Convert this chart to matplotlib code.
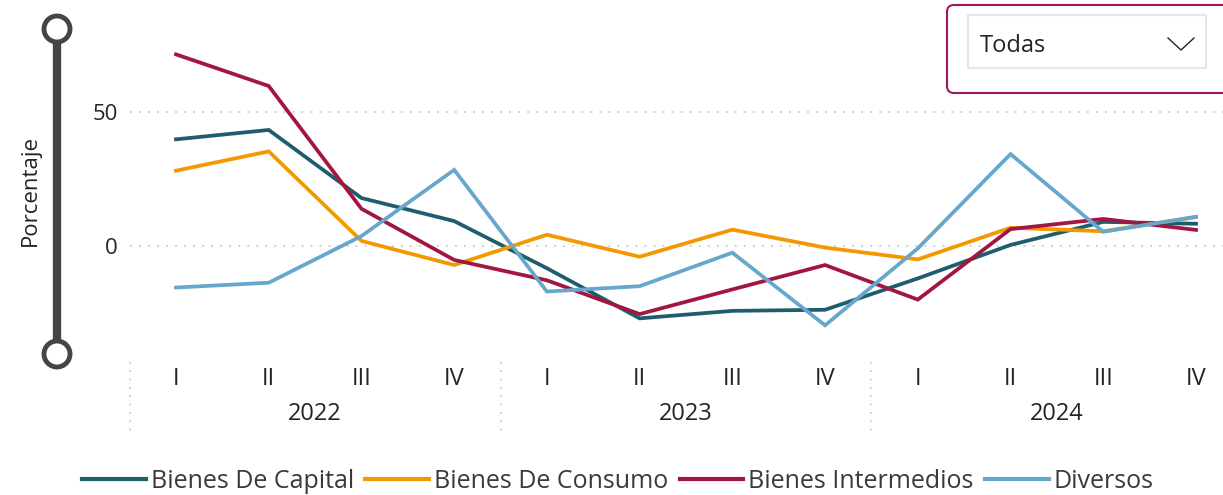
import matplotlib
matplotlib.use("Agg")
import matplotlib.pyplot as plt
from matplotlib.patches import FancyBboxPatch, Rectangle, Circle
from matplotlib.lines import Line2D
import matplotlib.transforms as mtransforms

plt.rcParams['font.family'] = ['Open Sans', 'DejaVu Sans']

quarters = ["I", "II", "III", "IV"] * 3
years = ["2022", "2023", "2024"]
series_names = ["Bienes De Capital", "Bienes De Consumo", "Bienes Intermedios", "Diversos"]
capital = [39.8, 43.3, 17.9, 9.3, -8.3, -27.0, -24.2, -23.8, -12.1, 0.4, 9.0, 8.3]
consumo = [28.1, 35.3, 1.9, -7.1, 4.2, -4.0, 6.1, -0.6, -5.0, 6.8, 5.5, 10.8]
intermedios = [71.5, 59.7, 13.9, -5.2, -12.8, -25.4, -16.2, -7.1, -20.0, 6.3, 10.1, 6.0]
diversos = [-15.5, -13.7, 3.7, 28.4, -17.0, -15.0, -2.5, -29.6, -0.9, 34.3, 5.3, 10.9]
colors = ["#1E5D6D", "#F39800", "#A1173F", "#67A7CC"]

W, H = 1223, 495
fig = plt.figure(figsize=(W / 100, H / 100), dpi=100)

# axes pixel box
ax_l, ax_r, ax_t, ax_b = 130, 1223, 0, 360
ax = fig.add_axes([ax_l / W, 1 - ax_b / H, (ax_r - ax_l) / W, (ax_b - ax_t) / H])

px_per_cat = 1020 / 11
ax.set_xlim(-(176 - ax_l) / px_per_cat, 11 + (ax_r - 1196) / px_per_cat)
ppu = 134 / 50
ax.set_ylim((246 - ax_b) / ppu, (246 - ax_t) / ppu)

x = list(range(len(quarters)))
for vals, name, c in zip([capital, consumo, intermedios, diversos], series_names, colors):
    ax.plot(x, vals, color=c, lw=2.7, label=name, solid_joinstyle='miter', zorder=3)

for v in [0, 50]:
    ax.axhline(v, color="#C8C8C8", lw=1.3, ls=(0, (1, 4)), zorder=1)

for s in ax.spines.values():
    s.set_visible(False)
ax.set_yticks([0, 50])
ax.set_yticklabels(["0", "50"], fontsize=16, color="#252423")
ax.tick_params(axis='y', length=0, pad=9)
ax.set_xticks(x)
ax.set_xticklabels(quarters, fontsize=17, color="#252423")
ax.tick_params(axis='x', length=0, pad=5)

trans = mtransforms.blended_transform_factory(ax.transData, fig.transFigure)
for i, yr in enumerate(years):
    ax.text(4 * i + 1.5, 1 - 414 / H, yr, transform=trans, ha='center', va='center',
            fontsize=17, color="#252423")
for sep in [-0.5, 3.5, 7.5]:
    ax.add_line(Line2D([sep, sep], [1 - 362 / H, 1 - 436 / H], transform=trans,
                       color="#C8C8C8", lw=1.2, ls=(0, (1, 4)), clip_on=False))

# y label
fig.text(30 / W, 1 - 190 / H, "Porcentaje", rotation=90, ha='center', va='center',
         fontsize=16, color="#252423")

# slider
fig.add_artist(Line2D([57 / W, 57 / W], [1 - 29 / H, 1 - 354 / H], color="#454545", lw=6,
                      transform=fig.transFigure, zorder=1))
for yy in [29, 354]:
    fig.add_artist(Circle((57, H - yy), 13, transform=None, facecolor="white",
                          edgecolor="#454545", lw=3.5, zorder=2))

# dropdown
fig.add_artist(FancyBboxPatch((947, H - 93), 290, 88, boxstyle="round,pad=0,rounding_size=7",
                              transform=None, facecolor="white", edgecolor="#A1175B", lw=1.5))
fig.add_artist(Rectangle((968, H - 68), 238, 53, transform=None, facecolor="white",
                         edgecolor="#E6E6E6", lw=1.5))
fig.text(980 / W, 1 - 46 / H, "Todas", ha='left', va='center', fontsize=17, color="#252423")
fig.add_artist(Line2D([1168 / W, 1181 / W, 1194 / W], [1 - 38 / H, 1 - 50 / H, 1 - 38 / H],
                      transform=fig.transFigure, color="#252423", lw=1.0))

# legend
handles = [Line2D([], [], color=c, lw=3) for c in colors]
leg = fig.legend(handles, series_names, loc='center left', bbox_to_anchor=(82 / W, 1 - 481 / H),
                 ncol=4, frameon=False, fontsize=18, handlelength=2.55, handletextpad=0.2,
                 columnspacing=0.45, borderaxespad=0, borderpad=0)
for t in leg.get_texts():
    t.set_color("#3A3A3A")

fig.savefig("out.png", dpi=100)
